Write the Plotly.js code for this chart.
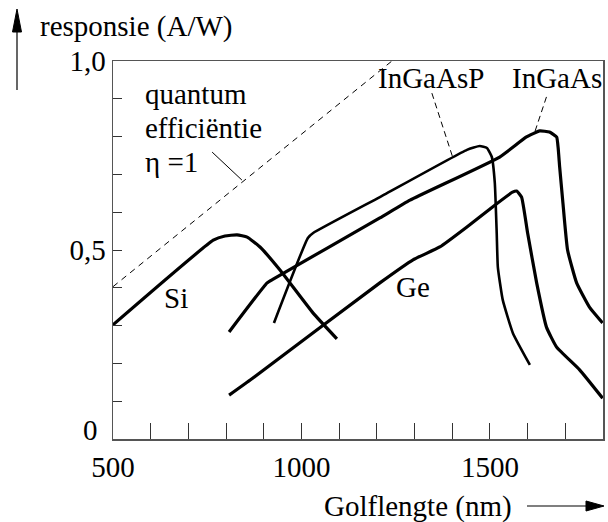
<!DOCTYPE html>
<html><head><meta charset="utf-8">
<script src="https://cdn.plot.ly/plotly-3.0.1.min.js"></script>
<style>html,body{margin:0;padding:0;background:#fff}#chart{width:608px;height:522px}</style>
</head><body><div id="chart"></div>
<script>
// Wavelength (nm) and responsivity (A/W)
const siX = [500, 766, 797, 829, 856, 890, 943, 1031, 1094];
const siY = [0.302, 0.526, 0.537, 0.540, 0.534, 0.508, 0.447, 0.333, 0.265];

const geX = [808, 864, 1208, 1296, 1367, 1439, 1507, 1560, 1571, 1584, 1600, 1624, 1650, 1677, 1738, 1799];
const geY = [0.116, 0.156, 0.413, 0.474, 0.508, 0.561, 0.614, 0.653, 0.656, 0.640, 0.545, 0.413, 0.296, 0.243, 0.183, 0.108];

const ingaasX = [808, 909, 925, 1208, 1288, 1526, 1597, 1632, 1658, 1677, 1681, 1685, 1693, 1706, 1730, 1764, 1799];
const ingaasY = [0.283, 0.413, 0.423, 0.585, 0.632, 0.746, 0.799, 0.815, 0.812, 0.799, 0.770, 0.720, 0.632, 0.500, 0.413, 0.349, 0.307];

const ingaaspX = [927, 1017, 1031, 1208, 1439, 1473, 1492, 1505, 1513, 1518, 1521, 1534, 1561, 1606];
const ingaaspY = [0.307, 0.532, 0.545, 0.640, 0.765, 0.775, 0.770, 0.746, 0.677, 0.545, 0.455, 0.368, 0.280, 0.196];

const qeX = [500, 1240];
const qeY = [0.403, 1.0];

const xTickVals = [500, 600, 700, 800, 900, 1000, 1100, 1200, 1300, 1400, 1500, 1600, 1700, 1800];
const xTickText = ['500', '', '', '', '', '1000', '', '', '', '', '1500', '', '', ''];
const yTickVals = [0, 0.1, 0.2, 0.3, 0.4, 0.5, 0.6, 0.7, 0.8, 0.9, 1.0];
const yTickText = ['', '', '', '', '', '0,5', '', '', '', '', '1,0'];
const yZeroLabel = '0';   // drawn separately, a little above the corner as in the reference

const FONT = '"Liberation Serif", "Times New Roman", serif';
const FS = 29;

function curve(x, y, w) {
  return {x: x, y: y, type: 'scatter', mode: 'lines', hoverinfo: 'skip',
          line: {color: '#000', width: w, shape: 'spline', smoothing: 0.4}};
}

const traces = [
  {x: qeX, y: qeY, type: 'scatter', mode: 'lines', line: {color: '#000', width: 1, dash: '6px,5px'}},
  curve(siX, siY, 3.2),
  curve(geX, geY, 3.2),
  curve(ingaasX, ingaasY, 3.2),
  curve(ingaaspX, ingaaspY, 2.6)
];

// pixel helpers for paper-referenced decorations (plot area 113..603 x 61..439)
const px = v => (v - 113) / 490;
const py = v => (439 - v) / 378;

function txt(x, y, s, xa, xref, yref) {
  return {x: x, y: y, xref: xref || 'x', yref: yref || 'y', text: s, showarrow: false,
          xanchor: xa || 'left', yanchor: 'middle', font: {family: FONT, size: FS, color: '#000'}};
}

const layout = {
  width: 608, height: 522,
  margin: {l: 113, r: 5, t: 61, b: 83},
  paper_bgcolor: '#fff', plot_bgcolor: '#fff',
  showlegend: false,
  font: {family: FONT, size: FS, color: '#000'},
  xaxis: {range: [500, 1800], showgrid: false, zeroline: false, showline: true, mirror: true,
          linecolor: '#555', linewidth: 1.5, ticks: 'inside', ticklen: 16, tickwidth: 1, tickcolor: '#333',
          tickmode: 'array', tickvals: xTickVals, ticktext: xTickText, ticklabelstandoff: 2,
          tickfont: {family: FONT, size: FS, color: '#000'}, fixedrange: true},
  yaxis: {range: [0, 1], showgrid: false, zeroline: false, showline: true, mirror: true,
          linecolor: '#555', linewidth: 1.5, ticks: 'inside', ticklen: 9, tickwidth: 1, tickcolor: '#333',
          tickmode: 'array', tickvals: yTickVals, ticktext: yTickText, ticklabelstandoff: 0,
          tickfont: {family: FONT, size: FS, color: '#000'}, fixedrange: true},
  annotations: [
    txt(580, 0.913, 'quantum'),
    txt(580, 0.823, 'efficiëntie'),
    txt(580, 0.733, 'η =1'),
    txt(668, 0.373, 'Si', 'center'),
    txt(1296, 0.402, 'Ge', 'center'),
    txt(1343, 0.955, 'InGaAsP', 'center'),
    txt(1677, 0.955, 'InGaAs', 'center'),
    txt(px(100), py(430), yZeroLabel, 'right', 'paper', 'paper'),
    txt(px(38), py(27), 'responsie (A/W)', 'left', 'paper', 'paper'),
    txt(px(418), py(506), 'Golflengte (nm)', 'center', 'paper', 'paper')
  ],
  shapes: [
    {type: 'line', xref: 'x', yref: 'y', x0: 763, y0: 0.759, x1: 842, y1: 0.685, line: {color: '#000', width: 1}},
    {type: 'line', xref: 'x', yref: 'y', x0: 1346, y0: 0.915, x1: 1401, y1: 0.746, line: {color: '#000', width: 1, dash: '6px,4px'}},
    {type: 'line', xref: 'x', yref: 'y', x0: 1650, y0: 0.905, x1: 1619, y1: 0.812, line: {color: '#000', width: 1, dash: '6px,4px'}},
    // y-axis arrow
    {type: 'line', xref: 'paper', yref: 'paper', x0: px(17), y0: py(90), x1: px(17), y1: py(28), line: {color: '#000', width: 1.2}},
    {type: 'path', xref: 'paper', yref: 'paper',
     path: `M ${px(17)} ${py(9)} L ${px(12.5)} ${py(32)} L ${px(21.5)} ${py(32)} Z`,
     fillcolor: '#000', line: {color: '#000', width: 1}},
    // x-axis arrow
    {type: 'line', xref: 'paper', yref: 'paper', x0: px(527), y0: py(506), x1: px(590), y1: py(506), line: {color: '#000', width: 1.2}},
    {type: 'path', xref: 'paper', yref: 'paper',
     path: `M ${px(604)} ${py(506)} L ${px(586)} ${py(501)} L ${px(586)} ${py(511)} Z`,
     fillcolor: '#000', line: {color: '#000', width: 1}}
  ]
};

Plotly.newPlot('chart', traces, layout, {staticPlot: true, displayModeBar: false});
</script>
</body></html>
